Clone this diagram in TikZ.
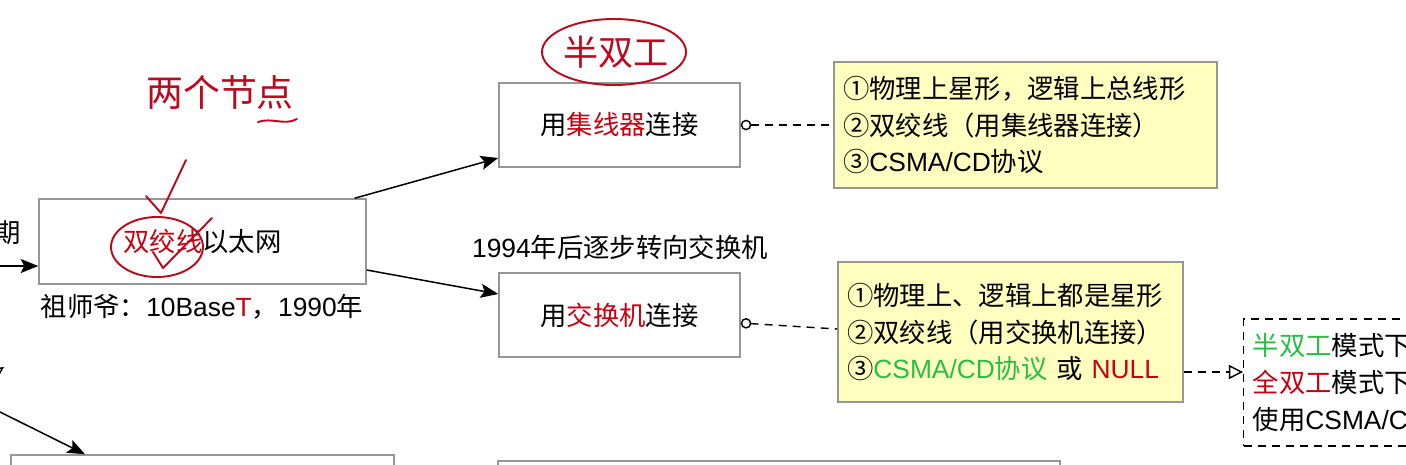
\documentclass[tikz,border=0pt]{standalone}
\usepackage{fontspec}
\setmainfont{Noto Sans CJK SC}
\newfontfamily\latinfont{Liberation Sans}
\usetikzlibrary{arrows.meta, positioning, calc}
\definecolor{hlred}{RGB}{200,0,15}
\definecolor{hlgreen}{RGB}{40,190,70}
\definecolor{inkred}{RGB}{185,10,30}
\definecolor{notefill}{RGB}{255,255,192}
\definecolor{boxgray}{RGB}{150,150,150}
\newcommand{\redtxt}[1]{\textcolor{hlred}{#1}}
\newcommand{\greentxt}[1]{\textcolor{hlgreen}{#1}}
\newcommand{\lt}[1]{{\latinfont #1}}
\tikzset{
  stagebox/.style={draw=boxgray, line width=0.9pt, fill=white},
  notebox/.style={draw=boxgray, line width=0.9pt, fill=notefill, align=left,
    inner xsep=0.18cm, font=\fontsize{15}{20.8}\selectfont},
  ink/.style={inkred, line width=1.1pt, line cap=round, line join=round},
  link/.style={line width=0.85pt, ->},
  hint/.style={line width=0.8pt, dash pattern=on 4.5pt off 3.5pt}
}

\begin{document}
\begin{tikzpicture}[x=0.02cm, y=-0.02cm, >={Stealth[length=10pt, width=8pt, inset=2pt]},
    font=\fontsize{15}{20}\selectfont]
        \useasboundingbox (0,0) rectangle (1406,464);
        \clip (0,0) rectangle (1406,464);
        % Ethernet boxes
        \node[stagebox, minimum width=6.54cm, minimum height=1.7cm] (twisted) at (202.5,241.5) {\redtxt{双绞线}以太网};
        \node (founder) at (202,307) {祖师爷：\lt{10Base\redtxt{T}}，\lt{1990}年};
        \node[stagebox, minimum width=4.82cm, minimum height=1.68cm] (hub) at (619.5,125) {用\redtxt{集线器}连接};
        \node[stagebox, minimum width=4.82cm, minimum height=1.68cm] (switch) at (619.5,315) {用\redtxt{交换机}连接};
        \node (since) at (620,247) {\lt{1994}年后逐步转向交换机};
        % boxes cut off at the bottom
        \node[stagebox, minimum width=7.66cm, minimum height=1.8cm] (lowleft) at (202.5,500) {};
        \node[stagebox, minimum width=11.24cm, minimum height=1.8cm] (lowmid) at (779,506) {};
        % notes
        \node[notebox, text width=7.3cm, minimum height=2.52cm] (hubnote) at (1025.5,125)
            {①物理上星形，逻辑上总线形\\②双绞线（用集线器连接）\\③\lt{CSMA/CD}协议};
        \node[notebox, text width=6.54cm, minimum height=2.8cm] (swnote) at (1010.5,332)
            {①物理上、逻辑上都是星形\\②双绞线（用交换机连接）\\③\greentxt{\lt{CSMA/CD}协议} 或 \redtxt{\lt{NULL}}};
        \node[draw, line width=0.8pt, dash pattern=on 4.5pt off 3.5pt, align=left, anchor=west,
            inner xsep=0.18cm, minimum height=2.54cm, font=\fontsize{15}{20.8}\selectfont] (modenote) at (1243,382.5)
            {\greentxt{半双工}模式下\\\redtxt{全双工}模式下\\使用\lt{CSMA/C}};
        % connectors
        \node (earlier) at (8,233) {期};
        \coordinate (leftin) at (-2,266);
        \coordinate (leftdown) at (-2,411);
        \coordinate (leftdash) at (-40,396);
        \coordinate (dashtip) at (4,367);
        \draw[link] (leftin) -- (leftin -| twisted.west);
        \draw[link] (leftdown) -- ([xshift=-2.35cm]lowleft.north);
        \draw[hint, -{Triangle[open, length=8pt, width=8pt]}] (leftdash) -- (dashtip);
        \draw[link] ([xshift=-0.24cm]twisted.north east) -- ([yshift=-0.66cm]hub.west);
        \draw[link] ([yshift=-0.57cm]twisted.east) -- ([yshift=0.42cm]switch.west);
        \draw[hint, {Circle[open, length=6pt]}-] (hub.east) -- (hub.east -| hubnote.west);
        \draw[hint, {Circle[open, length=6pt]}-] ([yshift=-0.16cm]switch.east) -- ([yshift=0.06cm]swnote.west);
        \draw[hint, -{Triangle[open, length=8pt, width=8pt]}] ([yshift=-0.8cm]swnote.east) -- ([yshift=-0.8cm]swnote.east -| modenote.west);
        % handwritten marks
        \node[inkred, font=\fontsize{21}{24}\selectfont] (twonodes) at (220,92) {两个节点};
        \draw[ink] (258,122) .. controls (272,117) and (284,126) .. (297,119);
        \node[inkred, font=\fontsize{20}{24}\selectfont] (halfduplex) at (616,52) {半双工};
        \draw[ink] (614,52) ellipse [x radius=72, y radius=33];
        \draw[ink] (146,196) -- (161,213) -- (186,160);
        \draw[ink] (157,247) ellipse [x radius=46, y radius=30];
        \draw[ink] (153,252) -- (163,268) -- (212,218);
    \end{tikzpicture}
\end{document}
